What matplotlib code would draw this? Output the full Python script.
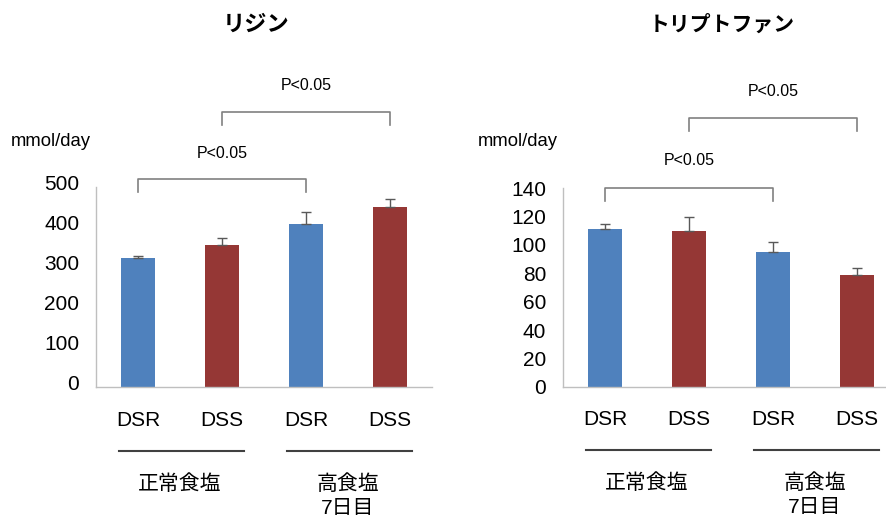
import numpy as np
import matplotlib.pyplot as plt
import matplotlib.transforms as mtransforms

plt.rcParams['font.family'] = ['Liberation Sans', 'Noto Sans CJK JP']

groups = ['DSR', 'DSS', 'DSR', 'DSS']
diet_labels = ['正常食塩', '高食塩\n7日目']
colors = ['#4f81bd', '#953735', '#4f81bd', '#953735']

# lysine excretion (mmol/day)
lys_mean = [322, 355, 407, 449]
lys_err = [6, 18, 30, 21]

# tryptophan excretion (mmol/day)
trp_mean = [111, 110, 95, 78.5]
trp_err = [3.5, 10, 7, 5]

fig = plt.figure(figsize=(8.86, 5.21), dpi=100)
W, H = 886, 521


def panel(left_px, bottom_px, height_px, ymax, ystep, means, errs, title,
          title_x, title_size, brackets, ylab_shift):
    ax = fig.add_axes([left_px / W, (H - bottom_px) / H, 336 / W, height_px / H])
    x = np.arange(len(means))
    ax.bar(x, means, width=0.4, color=colors, edgecolor='none', zorder=2)
    ax.errorbar(x, means, yerr=[np.zeros(len(errs)), errs], fmt='none',
                ecolor='#595959', elinewidth=1, capsize=3.5, capthick=1, zorder=3)
    ax.set_xlim(-0.5, 3.5)
    ax.set_ylim(0, ymax)
    ax.set_yticks(np.arange(0, ymax + 1, ystep))
    ax.set_xticks(x)
    ax.set_xticklabels(groups)
    ax.tick_params(axis='y', length=0, pad=12, labelsize=15, colors='#000000')
    ax.tick_params(axis='x', length=0, pad=17, labelsize=15)
    off = mtransforms.ScaledTranslation(0, ylab_shift / 100, fig.dpi_scale_trans)
    for lab in ax.get_yticklabels():
        lab.set_transform(lab.get_transform() + off)
    for s in ['top', 'right']:
        ax.spines[s].set_visible(False)
    for s in ['left', 'bottom']:
        ax.spines[s].set_color('#bfbfbf')
        ax.spines[s].set_linewidth(1)

    tr = ax.get_xaxis_transform()
    # group underline and diet condition labels
    for c, lab in zip([0.5, 2.5], diet_labels):
        ax.plot([c - 0.73, c + 0.76], [-0.32, -0.32], transform=tr,
                color='#404040', lw=1.5, clip_on=False)
        lines = lab.split('\n')
        ax.text(c, -0.485, lines[0], transform=tr, ha='center', va='center',
                fontsize=15)
        if len(lines) > 1:
            ax.text(c, -0.607, lines[1], transform=tr, ha='center', va='center',
                    fontsize=15)

    # significance brackets
    for (i, j, ytop, ydrop, ytext) in brackets:
        ax.plot([i, i, j, j], [ydrop, ytop, ytop, ydrop], color='#808080',
                lw=1.2, clip_on=False)
        ax.text((i + j) / 2, ytext, 'P<0.05', ha='center', va='center',
                fontsize=11.5)

    fig.text(title_x / W, 1 - 25 / H, title, ha='center', va='center',
             fontsize=title_size, fontweight='bold')
    return ax


panel(96, 387, 200, 500, 100, lys_mean, lys_err, 'リジン', 256, 16,
      [(0, 2, 519, 488, 585), (1, 3, 688, 655, 755)], 4)
fig.text(51 / W, 1 - 141 / H, 'mmol/day', ha='center', va='center', fontsize=13.3)

panel(563, 386.7, 198.4, 140, 20, trp_mean, trp_err, 'トリプトファン', 722, 15,
      [(0, 2, 140, 131.2, 159.5), (1, 3, 189.4, 180.4, 208.1)], 0)
fig.text(518 / W, 1 - 141 / H, 'mmol/day', ha='center', va='center', fontsize=13.3)

fig.savefig('out.png', dpi=100)
